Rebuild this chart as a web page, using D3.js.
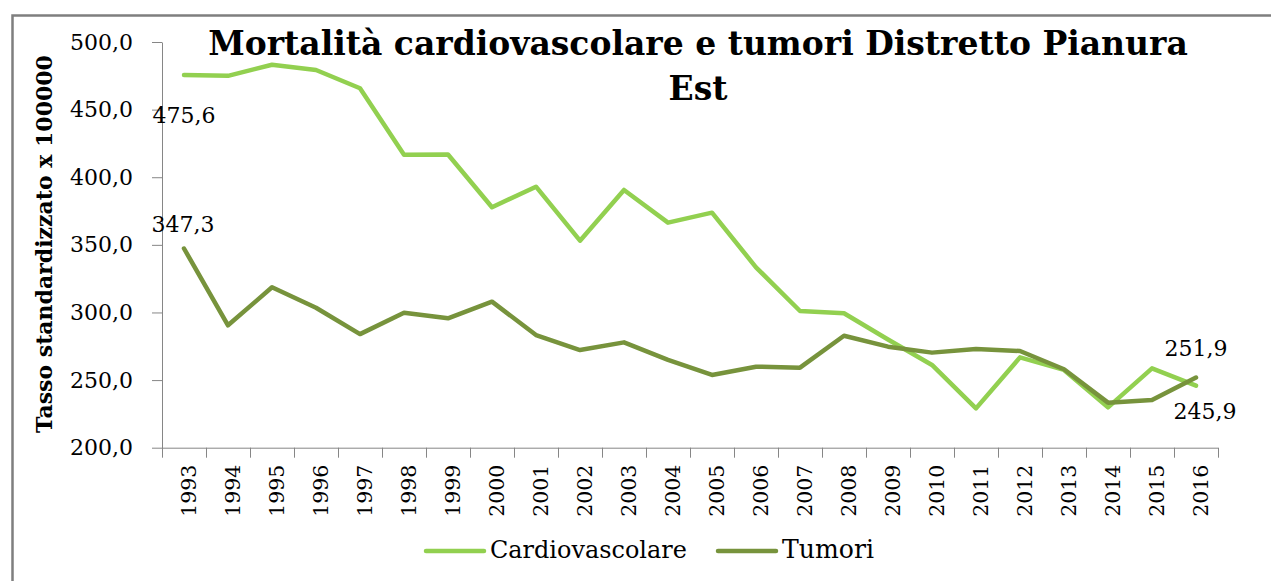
<!DOCTYPE html>
<html><head><meta charset="utf-8">
<script src="https://cdn.jsdelivr.net/npm/d3@7"></script>
<style>html,body{margin:0;padding:0;background:#fff;}svg{display:block;}</style>
</head><body>
<svg id="chart" width="1271" height="581"></svg>
<script>
const years = [1993,1994,1995,1996,1997,1998,1999,2000,2001,2002,2003,2004,2005,2006,2007,2008,2009,2010,2011,2012,2013,2014,2015,2016];
const cardiovascolare = [475.6,475.0,483.2,479.3,465.8,416.7,416.8,377.8,393.0,353.1,390.6,366.4,373.8,333.4,301.1,299.4,280.0,261.2,229.1,266.8,257.5,229.8,258.7,245.9];
const tumori = [347.3,290.5,318.6,303.5,284.0,299.8,295.7,308.0,283.3,272.2,277.9,264.9,253.8,259.9,259.2,282.8,274.7,270.3,273.0,271.5,258.0,233.3,235.3,251.9];
const yTicks = [200,250,300,350,400,450,500];
const seriesNames = ["Cardiovascolare","Tumori"];
const titleLines = ["Mortalità cardiovascolare e tumori Distretto Pianura","Est"];
const yTitle = "Tasso standardizzato x 100000";

const FONT = "'DejaVu Serif', 'Liberation Serif', serif";
const colors = ["#92D050", "#77933C"];
const svg = d3.select("#chart");

// frame (top and left border only visible)
svg.append("path").attr("d","M12.5,581 V15.5 H1271").attr("fill","none").attr("stroke","#7f7f7f").attr("stroke-width",2.5);

const x = d3.scaleBand().domain(years).range([162,1218]).padding(0);
const y = d3.scaleLinear().domain([200,500]).range([447.7,42]);
const cx = d => x(d) + x.bandwidth()/2;
const fmt = v => d3.format(".1f")(v).replace(".", ",");

function fit(sel, target){
  const w = sel.node().getComputedTextLength();
  const fs = parseFloat(sel.attr("font-size"));
  sel.attr("font-size", fs*target/w);
}

// y axis
const yAxis = svg.append("g").attr("transform","translate(162,0)")
  .call(d3.axisLeft(y).tickValues(yTicks).tickFormat(fmt).tickSizeInner(10).tickSizeOuter(0).tickPadding(19));
yAxis.select(".domain").attr("stroke","#868686");
yAxis.selectAll(".tick line").attr("stroke","#868686");
yAxis.selectAll(".tick text").attr("font-family",FONT).attr("font-size",22).attr("fill","#000");

// x axis
const gx = svg.append("g");
gx.append("line").attr("x1",x.range()[0]).attr("x2",x.range()[1]).attr("y1",y(200)+0.5).attr("y2",y(200)+0.5).attr("stroke","#868686");
const bounds = years.map(d=>x(d)).concat([x.range()[1]]);
gx.selectAll("line.tk").data(bounds).join("line").attr("class","tk")
  .attr("x1",d=>Math.round(d)+0.5).attr("x2",d=>Math.round(d)+0.5)
  .attr("y1",y(200)).attr("y2",y(200)+10).attr("stroke","#868686");
gx.selectAll("text").data(years).join("text")
  .attr("transform",d=>`translate(${cx(d)+5},${y(200)+17}) rotate(-90)`)
  .attr("text-anchor","end").attr("dy","0.36em")
  .attr("font-family",FONT).attr("font-size",20.5).attr("fill","#000")
  .text(d=>d);

// y title
const yt = svg.append("text").attr("transform","translate(52,244) rotate(-90)")
  .attr("text-anchor","middle").attr("font-family",FONT).attr("font-weight","bold")
  .attr("font-size",20).attr("fill","#000").text(yTitle);
fit(yt, 378);

// title
const t1 = svg.append("text").attr("x",698).attr("y",55).attr("text-anchor","middle")
  .attr("font-family",FONT).attr("font-weight","bold").attr("font-size",30).attr("fill","#000").text(titleLines[0]);
fit(t1, 980);
svg.append("text").attr("x",698).attr("y",100).attr("text-anchor","middle")
  .attr("font-family",FONT).attr("font-weight","bold").attr("font-size",t1.attr("font-size")).attr("fill","#000").text(titleLines[1]);

// lines
const line = d3.line().x((v,i)=>cx(years[i])).y(v=>y(v));
[cardiovascolare, tumori].forEach((s,k)=>{
  svg.append("path").datum(s).attr("d",line).attr("fill","none")
    .attr("stroke",colors[k]).attr("stroke-width",4.5)
    .attr("stroke-linejoin","round").attr("stroke-linecap","round");
});

// data labels (first and last values)
const n = years.length-1;
const labels = [
  {v:cardiovascolare[0], yr:years[0], dx:0, dy:40},
  {v:tumori[0], yr:years[0], dx:-1, dy:-24},
  {v:tumori[n], yr:years[n], dx:0, dy:-29},
  {v:cardiovascolare[n], yr:years[n], dx:9, dy:25}
];
svg.selectAll("text.dl").data(labels).join("text").attr("class","dl")
  .attr("x",d=>cx(d.yr)+d.dx).attr("y",d=>y(d.v)+d.dy).attr("dy","0.36em")
  .attr("text-anchor","middle").attr("font-family",FONT).attr("font-size",22).attr("fill","#000")
  .text(d=>fmt(d.v));

// legend
const leg = [{x0:426, x1:484, tx:490, tw:197},{x0:718, x1:776, tx:782, tw:92}];
leg.forEach((L,k)=>{
  svg.append("line").attr("x1",L.x0).attr("x2",L.x1).attr("y1",551).attr("y2",551)
    .attr("stroke",colors[k]).attr("stroke-width",4.5).attr("stroke-linecap","round");
  const tt = svg.append("text").attr("x",L.tx).attr("y",558).attr("font-family",FONT)
    .attr("font-size",21).attr("fill","#000").text(seriesNames[k]);
  fit(tt, L.tw);
});
</script>
</body></html>
